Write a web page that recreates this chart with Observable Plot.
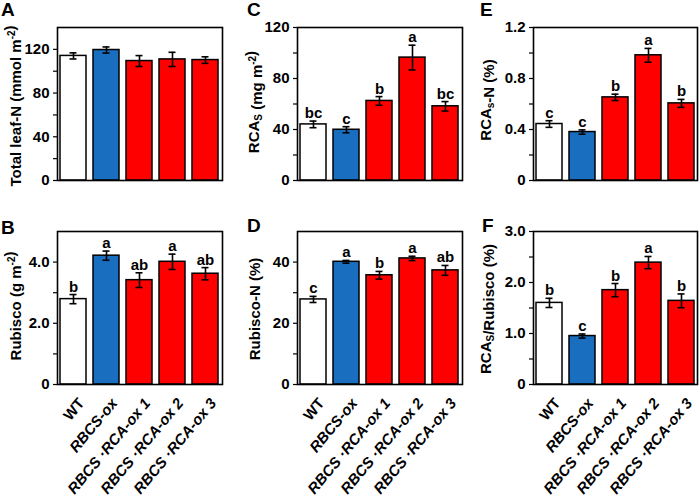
<!DOCTYPE html>
<html>
<head>
<meta charset="utf-8">
<script src="https://cdn.jsdelivr.net/npm/d3@7"></script>
<script src="https://cdn.jsdelivr.net/npm/@observablehq/plot@0.6"></script>
<style>
  body { margin: 0; background: white; }
  #wrap { position: relative; width: 700px; height: 498px; background: white; overflow: hidden; }
  #wrap svg { position: absolute; overflow: visible; }
</style>
</head>
<body>
<div id="wrap"></div>
<script>
// ---------- data ----------
const groups = ["WT", "RBCS-ox", "RBCS ·RCA-ox 1", "RBCS ·RCA-ox 2", "RBCS ·RCA-ox 3"];

const totalN      = [114.0, 119.4, 109.3, 110.8, 110.2];
const totalNse    = [2.8, 2.8, 5.0, 6.5, 3.0];

const rubisco        = [2.79, 4.21, 3.41, 4.01, 3.62];
const rubiscoSe      = [0.15, 0.15, 0.24, 0.25, 0.20];
const rubiscoLetters = ["b", "a", "ab", "a", "ab"];

const rcas        = [44.0, 39.8, 62.4, 96.4, 58.2];
const rcasSe      = [2.6, 2.4, 3.4, 9.7, 3.7];
const rcasLetters = ["bc", "c", "b", "a", "bc"];

const rubiscoN        = [27.8, 40.1, 35.7, 41.2, 37.3];
const rubiscoNse      = [1.0, 0.45, 1.25, 0.7, 1.6];
const rubiscoNLetters = ["c", "a", "b", "a", "ab"];

const rcasN        = [0.443, 0.380, 0.652, 0.982, 0.605];
const rcasNse      = [0.026, 0.017, 0.025, 0.054, 0.031];
const rcasNLetters = ["c", "c", "b", "a", "b"];

const ratio        = [1.60, 0.95, 1.85, 2.39, 1.64];
const ratioSe      = [0.09, 0.04, 0.13, 0.12, 0.135];
const ratioLetters = ["b", "c", "b", "a", "b"];

// ---------- style ----------
const barColors = ["#ffffff", "#1a6ebf", "#ff0000", "#ff0000", "#ff0000"];
const FONT = "'Liberation Sans', Arial, Helvetica, sans-serif";

const panels = [
  {letter: "A", left: 0,   top: 0,   width: 230, height: 200, ml: 57, mr: 8, mt: 27, mb: 20,
   values: totalN, se: totalNse, letters: null, domain: [0, 140], ticks: [0, 40, 80, 120], minor: [20, 60, 100],
   fmt: d => String(d), label: [["Total leaf-N (mmol m", "n"], ["-2", "sup"], [")", "n"]],
   lx: 21, ly: 106, px: 1, py: 16, showX: false},
  {letter: "C", left: 230, top: 0,   width: 235, height: 200, ml: 67, mr: 3, mt: 27, mb: 20,
   values: rcas, se: rcasSe, letters: rcasLetters, domain: [0, 120], ticks: [0, 40, 80, 120], minor: [20, 60, 100],
   fmt: d => String(d), label: [["RCA", "n"], ["S", "sub"], [" (mg m", "n"], ["-2", "sup"], [")", "n"]],
   lx: 29, ly: 102, px: 17, py: 16, showX: false},
  {letter: "E", left: 465, top: 0,   width: 235, height: 200, ml: 68, mr: 3, mt: 27, mb: 20,
   values: rcasN, se: rcasNse, letters: rcasNLetters, domain: [0, 1.2], ticks: [0, 0.4, 0.8, 1.2], minor: [0.2, 0.6, 1.0],
   fmt: d => d === 0 ? "0" : d.toFixed(1), label: [["RCA", "n"], ["s", "sub"], ["-N (%)", "n"]],
   lx: 26, ly: 100, px: 15, py: 16, showX: false},
  {letter: "B", left: 0,   top: 200, width: 230, height: 298, ml: 57, mr: 8, mt: 31, mb: 114,
   values: rubisco, se: rubiscoSe, letters: rubiscoLetters, domain: [0, 5], ticks: [0, 2, 4], minor: [1, 3],
   fmt: d => d === 0 ? "0" : d.toFixed(1), label: [["Rubisco (g m", "n"], ["-2", "sup"], [")", "n"]],
   lx: 21, ly: 106, px: 1, py: 34, showX: true},
  {letter: "D", left: 230, top: 200, width: 235, height: 298, ml: 67, mr: 3, mt: 31, mb: 114,
   values: rubiscoN, se: rubiscoNse, letters: rubiscoNLetters, domain: [0, 50], ticks: [0, 20, 40], minor: [10, 30],
   fmt: d => String(d), label: [["Rubisco-N (%)", "n"]],
   lx: 30, ly: 109, px: 17, py: 32, showX: true},
  {letter: "F", left: 465, top: 200, width: 235, height: 298, ml: 68, mr: 3, mt: 31, mb: 114,
   values: ratio, se: ratioSe, letters: ratioLetters, domain: [0, 3], ticks: [0, 1, 2, 3], minor: [0.5, 1.5, 2.5],
   fmt: d => d === 0 ? "0" : d.toFixed(1), label: [["RCA", "n"], ["S", "sub"], ["/Rubisco (%)", "n"]],
   lx: 26, ly: 109, px: 17, py: 32, showX: true}
];

const wrap = document.getElementById("wrap");

for (const p of panels) {
  const data = groups.map((g, i) => ({
    g, v: p.values[i], lo: p.values[i] - p.se[i], hi: p.values[i] + p.se[i],
    letter: p.letters ? p.letters[i] : ""
  }));
  const marks = [
    Plot.barY(data, {x: "g", y: "v", fill: "g", stroke: "black", strokeWidth: 1.5}),
    Plot.ruleX(data, {x: "g", y1: "lo", y2: "hi", stroke: "black", strokeWidth: 1.6}),
    Plot.tickY(data, {x: "g", y: "lo", stroke: "black", strokeWidth: 1.6, insetLeft: 9.5, insetRight: 9.5}),
    Plot.tickY(data, {x: "g", y: "hi", stroke: "black", strokeWidth: 1.6, insetLeft: 9.5, insetRight: 9.5}),
    Plot.frame({stroke: "black", strokeWidth: 1.6}),
    Plot.axisY({ticks: p.ticks, tickFormat: p.fmt, tickSize: 4, tickPadding: 4, fontSize: 15, fontWeight: "bold", label: null, stroke: "black", strokeWidth: 1.2}),
    Plot.axisY({ticks: p.minor, tickFormat: () => "", tickSize: 4, label: null, stroke: "black", strokeWidth: 1.2})
  ];
  if (p.letters) {
    marks.push(Plot.text(data, {x: "g", y: "hi", text: "letter", dy: -3, lineAnchor: "bottom", fontSize: 15, fontWeight: "bold", fill: "black"}));
  }
  if (p.showX) {
    marks.push(Plot.axisX({tickSize: 0, tickRotate: -50, tickPadding: 16, dx: 8, fontSize: 15, fontWeight: "bold", fontStyle: "italic", label: null}));
  }
  const svg = Plot.plot({
    width: p.width, height: p.height,
    marginLeft: p.ml, marginRight: p.mr, marginTop: p.mt, marginBottom: p.mb,
    style: {fontFamily: FONT, color: "black", background: "transparent"},
    x: {domain: groups, paddingInner: 0.2, paddingOuter: 0.07, axis: null},
    y: {domain: p.domain, axis: null},
    color: {domain: groups, range: barColors},
    marks
  });
  svg.style.left = p.left + "px";
  svg.style.top = p.top + "px";
  const s = d3.select(svg);
  // WT label upright
  s.selectAll("text").filter(function() { return this.textContent === "WT"; }).style("font-style", "normal");
  // y-axis title with sub/superscripts
  const t = s.append("text")
    .attr("transform", `translate(${p.lx},${p.ly}) rotate(-90)`)
    .attr("text-anchor", "middle")
    .attr("font-family", FONT).attr("font-size", 15).attr("font-weight", "bold").attr("fill", "black");
  for (const [txt, kind] of p.label) {
    const ts = t.append("tspan").text(txt);
    if (kind === "sup") ts.attr("font-size", 10).attr("dy", -6);
    if (kind === "sub") ts.attr("font-size", 10).attr("dy", 3);
    if (kind !== "n") {
      t.append("tspan").attr("dy", kind === "sup" ? 6 : -3).text("");
    }
  }
  // panel letter
  s.append("text").attr("x", p.px).attr("y", p.py)
    .attr("text-anchor", "start")
    .attr("font-family", FONT).attr("font-size", 19).attr("font-weight", "bold").attr("fill", "black")
    .text(p.letter);
  wrap.appendChild(svg);
}
</script>
</body>
</html>
